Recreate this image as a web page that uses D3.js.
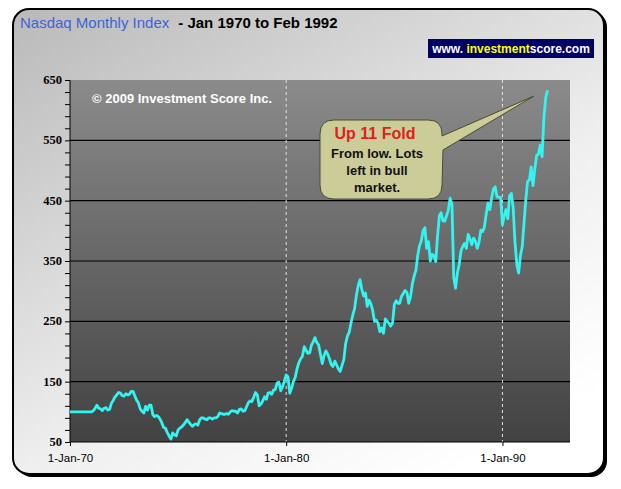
<!DOCTYPE html>
<html>
<head>
<meta charset="utf-8">
<script src="https://cdn.jsdelivr.net/npm/d3@7"></script>
<style>
  body { margin: 0; background: #fff; }
  text { font-family: Arial, "Liberation Sans", sans-serif; }
</style>
</head>
<body>
<div id="chart"></div>
<script>
// monthly closes, Jan 1970 .. Feb 1992
var nasdaq1970s = [
	100, 100, 100, 100, 100, 100, 100, 100, 100, 100, 100, 100,
	100, 102, 106, 111, 106, 105, 102, 106, 107, 103, 104, 114,
	119, 125, 128, 132, 131, 127, 126, 130, 128, 129, 134, 134,
	126, 119, 115, 105, 101, 98, 109, 103, 111, 111, 95, 92,
	94, 92, 88, 82, 74, 73, 66, 60, 55, 65, 62, 60,
	70, 73, 75, 78, 82, 87, 83, 79, 76, 79, 80, 78,
	87, 90, 90, 88, 87, 90, 90, 88, 90, 90, 92, 98,
	97, 96, 96, 97, 96, 100, 102, 101, 101, 98, 104, 105,
	101, 102, 108, 115, 118, 117, 124, 132, 128, 110, 113, 118,
	125, 121, 131, 132, 129, 136, 137, 148, 149, 135, 142, 151
];
var nasdaq1980s = [
	161, 158, 131, 139, 150, 157, 171, 181, 188, 192, 208, 202,
	197, 198, 210, 216, 223, 215, 211, 196, 180, 193, 201, 196,
	188, 178, 175, 184, 178, 171, 167, 177, 187, 213, 226, 232,
	248, 261, 271, 293, 309, 319, 303, 292, 297, 275, 285, 279,
	268, 250, 252, 247, 233, 239, 230, 254, 250, 247, 242, 247,
	278, 284, 280, 280, 291, 296, 301, 298, 280, 291, 312, 325,
	335, 360, 375, 383, 400, 405, 371, 382, 350, 361, 359, 349,
	392, 425, 430, 417, 416, 425, 434, 454, 444, 323, 305, 330,
	344, 367, 374, 379, 371, 394, 387, 377, 388, 383, 371, 381,
	401, 399, 406, 427, 446, 435, 454, 469, 473, 456, 456, 455
];
var nasdaq1990s = [
	410, 425, 435, 420, 458, 462, 438, 381, 344, 330, 359, 374,
	414, 453, 482, 484, 506, 475, 502, 525, 527, 542, 523, 586,
	620, 633
];

var xTickYears = [1970, 1980, 1990];
var yTicks = [50, 150, 250, 350, 450, 550, 650];
var gridValues = [150, 250, 350, 450, 550];
var noteLines = ["From low. Lots", "left in bull", "market."];

var width = 621, height = 489;
var plot = {left: 70, top: 80, right: 570, bottom: 442};

var allValues = nasdaq1970s.concat(nasdaq1980s, nasdaq1990s);
var data = allValues.map(function(v, i) {
	return {date: new Date(1970, i, 1), value: v};
});

var svg = d3.select("#chart").append("svg")
	.attr("width", width)
	.attr("height", height);

var defs = svg.append("defs");

var bgGrad = defs.append("linearGradient")
	.attr("id", "bgGrad")
	.attr("x1", 0).attr("y1", 0).attr("x2", 0.75).attr("y2", 1);
bgGrad.append("stop").attr("offset", "0%").attr("stop-color", "#b9b9b9");
bgGrad.append("stop").attr("offset", "65%").attr("stop-color", "#efefef");
bgGrad.append("stop").attr("offset", "100%").attr("stop-color", "#ffffff");

var plotGrad = defs.append("linearGradient")
	.attr("id", "plotGrad")
	.attr("x1", 0).attr("y1", 0).attr("x2", 0).attr("y2", 1);
plotGrad.append("stop").attr("offset", "0%").attr("stop-color", "#8b8b8b");
plotGrad.append("stop").attr("offset", "100%").attr("stop-color", "#424242");

// outer frame with shadow
svg.append("rect")
	.attr("x", 16).attr("y", 11)
	.attr("width", 591).attr("height", 466)
	.attr("rx", 16)
	.style("fill", "#000");
svg.append("rect")
	.attr("x", 13).attr("y", 9)
	.attr("width", 591).attr("height", 465)
	.attr("rx", 16)
	.style("fill", "url(#bgGrad)")
	.style("stroke", "#000")
	.style("stroke-width", 2);

// title
var title = svg.append("text")
	.attr("x", 20).attr("y", 28)
	.style("font-size", "15px");
title.append("tspan")
	.style("fill", "#3d64d6")
	.text("Nasdaq Monthly Index");
title.append("tspan")
	.attr("dx", 9)
	.style("fill", "#000")
	.style("font-weight", "bold")
	.text("- Jan 1970 to Feb 1992");

// logo
svg.append("rect")
	.attr("x", 428).attr("y", 39)
	.attr("width", 166).attr("height", 19)
	.style("fill", "#000066");
var logo = svg.append("text")
	.attr("x", 511).attr("y", 53)
	.attr("text-anchor", "middle")
	.style("font-size", "12px")
	.style("font-weight", "bold")
	.style("fill", "#fff");
logo.append("tspan").text("www. ");
logo.append("tspan").style("fill", "#ffff00").text("investment");
logo.append("tspan").text("score.com");

var x = d3.scaleTime()
	.domain([new Date(1970, 0, 1), new Date(1993, 1, 15)])
	.range([plot.left, plot.right]);

var y = d3.scaleLinear()
	.domain([50, 650])
	.range([plot.bottom, plot.top]);

// plot area
svg.append("rect")
	.attr("x", plot.left).attr("y", plot.top)
	.attr("width", plot.right - plot.left)
	.attr("height", plot.bottom - plot.top)
	.style("fill", "url(#plotGrad)");

svg.append("g").selectAll("line")
	.data(gridValues)
	.enter().append("line")
	.attr("x1", plot.left).attr("x2", plot.right)
	.attr("y1", function(d) { return y(d); })
	.attr("y2", function(d) { return y(d); })
	.style("stroke", "#000")
	.style("stroke-width", 1.2);

svg.append("g").selectAll("line")
	.data(xTickYears.slice(1))
	.enter().append("line")
	.attr("x1", function(d) { return x(new Date(d, 0, 1)); })
	.attr("x2", function(d) { return x(new Date(d, 0, 1)); })
	.attr("y1", plot.top).attr("y2", plot.bottom)
	.style("stroke", "#e0e0e0")
	.style("stroke-width", 1)
	.style("stroke-dasharray", "3,3");

svg.append("text")
	.attr("x", 92).attr("y", 103)
	.style("font-size", "13px")
	.style("font-weight", "bold")
	.style("fill", "#fff")
	.text("\u00a9 2009 Investment Score Inc.");

// axes
var yAxis = d3.axisLeft(y)
	.tickValues(d3.range(50, 651, 20))
	.tickSize(5)
	.tickFormat("");
var yAxisG = svg.append("g")
	.attr("transform", "translate(" + plot.left + ",0)")
	.call(yAxis);
yAxisG.select(".domain").attr("d", "M0," + plot.top + "V" + plot.bottom);

svg.append("g").selectAll("text")
	.data(yTicks)
	.enter().append("text")
	.attr("x", 62)
	.attr("y", function(d) { return y(d) + 4; })
	.attr("text-anchor", "end")
	.style("font-family", "'Liberation Serif', 'Times New Roman', serif")
	.style("font-weight", "bold")
	.style("font-size", "12.5px")
	.text(function(d) { return d; });

var xAxis = d3.axisBottom(x)
	.tickValues(xTickYears.map(function(d) { return new Date(d, 0, 1); }))
	.tickSize(4)
	.tickPadding(8)
	.tickFormat(d3.timeFormat("%-d-%b-%y"));
var xAxisG = svg.append("g")
	.attr("transform", "translate(0," + plot.bottom + ")")
	.call(xAxis);
xAxisG.select(".domain").attr("d", "M" + plot.left + ",0H" + plot.right);
xAxisG.selectAll("text")
	.style("font-size", "11.5px")
	.style("font-family", "Arial, 'Liberation Sans', sans-serif");

// index line
var line = d3.line()
	.x(function(d) { return x(d.date); })
	.y(function(d) { return y(d.value); });

svg.append("path")
	.datum(data)
	.attr("d", line)
	.style("fill", "none")
	.style("stroke", "#33f4f0")
	.style("stroke-width", 2.8)
	.style("stroke-linejoin", "round");

// callout bubble
var last = data[data.length - 1];
var tipX = x(last.date) - 14, tipY = y(last.value) + 6;
svg.append("path")
	.attr("d", "M320,134 Q320,120 334,120 L428,120 Q442,120 442,134 L442,136 L" +
		tipX + "," + tipY + " L443,150 L442,185 Q442,199 428,199 L334,199 Q320,199 320,185 Z")
	.style("fill", "#cccc99")
	.style("stroke", "#4a4a30")
	.style("stroke-width", 1);

svg.append("text")
	.attr("x", 375).attr("y", 139)
	.attr("text-anchor", "middle")
	.style("font-size", "16px")
	.style("font-weight", "bold")
	.style("fill", "#e0201c")
	.text("Up 11 Fold");

svg.append("g").selectAll("text")
	.data(noteLines)
	.enter().append("text")
	.attr("x", 377)
	.attr("y", function(d, i) { return 158 + i * 17; })
	.attr("text-anchor", "middle")
	.style("font-size", "13px")
	.style("font-weight", "bold")
	.style("fill", "#111")
	.text(function(d) { return d; });
</script>
</body>
</html>
